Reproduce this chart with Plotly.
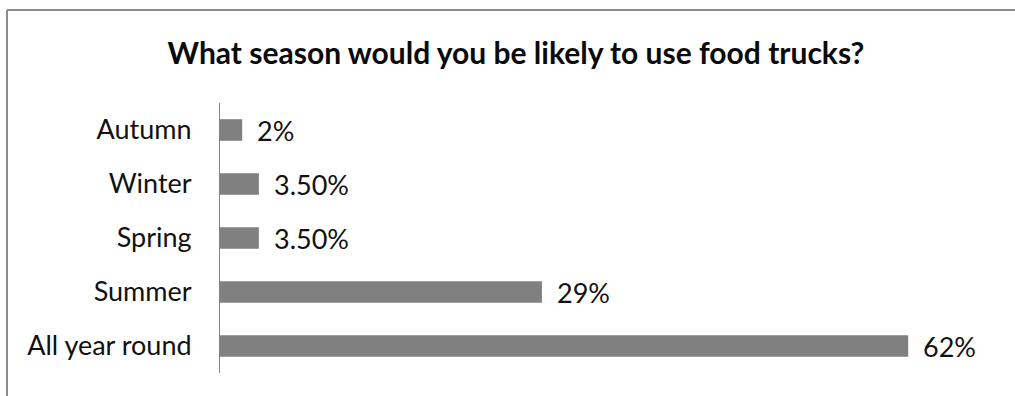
import plotly.graph_objects as go

# Survey results: preferred season for using food trucks
seasons = ["Autumn", "Winter", "Spring", "Summer", "All year round"]
shares = [2, 3.5, 3.5, 29, 62]
share_labels = ["2%", "3.50%", "3.50%", "29%", "62%"]
title_text = "What season would you be likely to use food trucks?"

W, H = 1015, 396
M_L, M_R, M_T, M_B = 220, 18, 103, 23
FONT = "Lato, 'Open Sans', sans-serif"
BAR = "#808080"
FRAME = "#8c8c8c"

fig = go.Figure(
    go.Bar(
        x=shares,
        y=seasons,
        orientation="h",
        marker=dict(color=BAR, line=dict(width=0)),
        hoverinfo="skip",
    )
)

# value labels to the right of each bar
for s, v, lab in zip(seasons, shares, share_labels):
    fig.add_annotation(
        x=v, y=s, xref="x", yref="y", text=lab, showarrow=False,
        xanchor="left", yanchor="middle", xshift=13,
        font=dict(family=FONT, size=27, color="#111111"),
    )

# chart frame: only the top and left edges fall inside the view
pw = W - M_L - M_R
ph = H - M_T - M_B
def px_x(p):
    return (p - M_L) / pw
def px_y(p):
    return (H - M_B - p) / ph

fig.add_shape(type="line", xref="paper", yref="paper",
              x0=px_x(7), x1=px_x(W + 5), y0=px_y(10), y1=px_y(10),
              line=dict(color=FRAME, width=2))
fig.add_shape(type="line", xref="paper", yref="paper",
              x0=px_x(7), x1=px_x(7), y0=px_y(10), y1=px_y(H + 5),
              line=dict(color=FRAME, width=2))

fig.update_layout(
    width=W, height=H,
    margin=dict(l=M_L, r=M_R, t=M_T, b=M_B, pad=0),
    paper_bgcolor="white", plot_bgcolor="white",
    bargap=0.6,
    showlegend=False,
    title=dict(
        text=title_text, x=516 / W, xanchor="center",
        y=1 - 53 / H, yanchor="middle", yref="container",
        font=dict(family=FONT, size=30, color="#0a0a0a", weight="bold"),
    ),
    xaxis=dict(range=[0, 70], visible=False, fixedrange=True),
    yaxis=dict(
        autorange="reversed",
        showline=True, linecolor="#868686", linewidth=1,
        showgrid=False, zeroline=False, ticks="",
        ticklabelstandoff=22,
        tickfont=dict(family=FONT, size=27, color="#111111"),
        fixedrange=True,
    ),
)

fig.write_html("out.html")
